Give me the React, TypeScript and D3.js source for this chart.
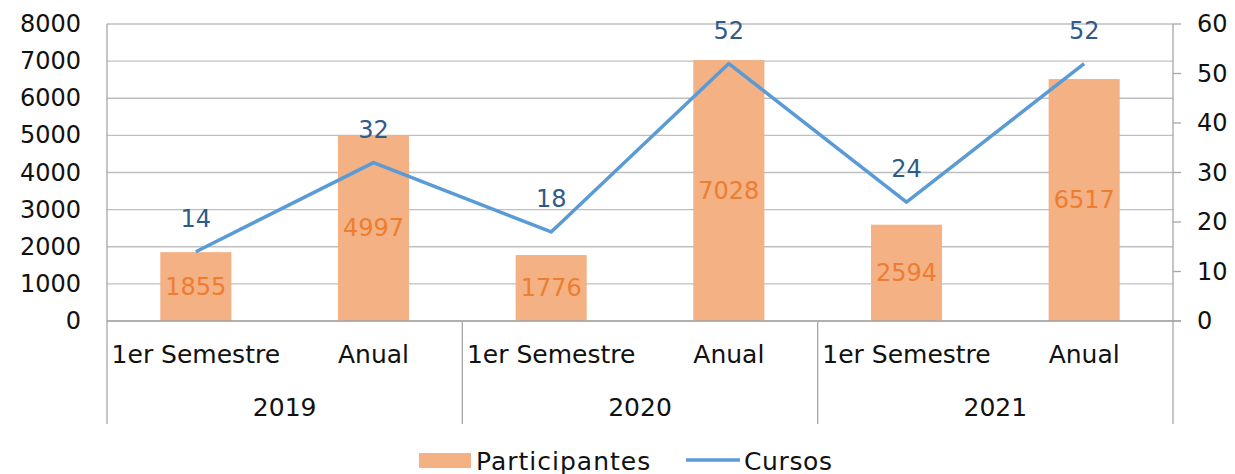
import React from "react";
import * as d3 from "d3";

const years = ["2019", "2020", "2021"];
const periods = ["1er Semestre", "Anual"];
const participantes = [1855, 4997, 1776, 7028, 2594, 6517];
const cursos = [14, 32, 18, 52, 24, 52];
const leftTicks = [0, 1000, 2000, 3000, 4000, 5000, 6000, 7000, 8000];
const rightTicks = [0, 10, 20, 30, 40, 50, 60];

const W = 1235;
const H = 474;
const L = 107;
const R = 1173;
const T = 24;
const B = 321;
const FONT = "'DejaVu Sans', sans-serif";

export default function App() {
  const cats = years.flatMap((y) => periods.map((p) => ({ year: y, period: p })));
  const idx = cats.map((_, i) => String(i));
  const x = d3.scaleBand().domain(idx).range([L, R]).paddingInner(0.6).paddingOuter(0.3);
  const groupX = d3.scaleBand().domain(years).range([L, R]);
  const yL = d3.scaleLinear().domain([0, 8000]).range([B, T]);
  const yR = d3.scaleLinear().domain([0, 60]).range([B, T]);
  const cx = (i: number) => (x(String(i)) as number) + x.bandwidth() / 2;
  const line = d3
    .line<number>()
    .x((_, i) => cx(i))
    .y((d) => yR(d));

  return (
    <svg
      width={W}
      height={H}
      style={{ position: "absolute", left: 0, top: 0, background: "#fff" }}
      fontFamily={FONT}
    >
      {leftTicks.map((t) => (
        <line key={t} x1={L} x2={R} y1={yL(t)} y2={yL(t)} stroke="#bfbfbf" strokeWidth={1.3} />
      ))}
      <line x1={L} x2={L} y1={T} y2={B} stroke="#a6a6a6" strokeWidth={1.3} />
      <line x1={R} x2={R} y1={T} y2={B} stroke="#a6a6a6" strokeWidth={1.3} />
      {rightTicks.map((t) => (
        <line key={t} x1={R} x2={R + 8} y1={yR(t)} y2={yR(t)} stroke="#a6a6a6" strokeWidth={1.3} />
      ))}
      {participantes.map((v, i) => (
        <rect
          key={i}
          x={x(String(i))}
          y={yL(v)}
          width={x.bandwidth()}
          height={yL(0) - yL(v)}
          fill="#F4B183"
        />
      ))}
      <line x1={L} x2={R + 8} y1={B} y2={B} stroke="#a6a6a6" strokeWidth={1.3} />
      {[...years.map((y) => groupX(y) as number), R].map((gx, i) => (
        <line key={i} x1={gx} x2={gx} y1={B} y2={424} stroke="#a6a6a6" strokeWidth={1.3} />
      ))}
      <path d={line(cursos) || ""} fill="none" stroke="#5B9BD5" strokeWidth={3.5} strokeLinejoin="round" />
      {participantes.map((v, i) => (
        <text
          key={i}
          x={cx(i)}
          y={(yL(v) + yL(0)) / 2}
          textAnchor="middle"
          dominantBaseline="central"
          fontSize={24}
          fill="#ED7D31"
        >
          {v}
        </text>
      ))}
      {cursos.map((v, i) => (
        <text
          key={i}
          x={cx(i)}
          y={yR(v) - 33}
          textAnchor="middle"
          dominantBaseline="central"
          fontSize={24}
          fill="#2F5B8A"
        >
          {v}
        </text>
      ))}
      {leftTicks.map((t) => (
        <text key={t} x={81} y={yL(t)} textAnchor="end" dominantBaseline="central" fontSize={24} fill="#111">
          {t}
        </text>
      ))}
      {rightTicks.map((t) => (
        <text key={t} x={1197} y={yR(t)} textAnchor="start" dominantBaseline="central" fontSize={24} fill="#111">
          {t}
        </text>
      ))}
      {cats.map((c, i) => (
        <text key={i} x={cx(i)} y={354} textAnchor="middle" dominantBaseline="central" fontSize={25} fill="#111">
          {c.period}
        </text>
      ))}
      {years.map((y) => (
        <text
          key={y}
          x={(groupX(y) as number) + groupX.bandwidth() / 2}
          y={407}
          textAnchor="middle"
          dominantBaseline="central"
          fontSize={25}
          fill="#111"
        >
          {y}
        </text>
      ))}
      <rect x={419} y={453} width={52} height={15} fill="#F4B183" />
      <text x={476} y={461} dominantBaseline="central" fontSize={25} letterSpacing={1} fill="#111">
        Participantes
      </text>
      <line x1={686} x2={740} y1={460} y2={460} stroke="#5B9BD5" strokeWidth={3.5} />
      <text x={744} y={461} dominantBaseline="central" fontSize={25} letterSpacing={0.6} fill="#111">
        Cursos
      </text>
    </svg>
  );
}
